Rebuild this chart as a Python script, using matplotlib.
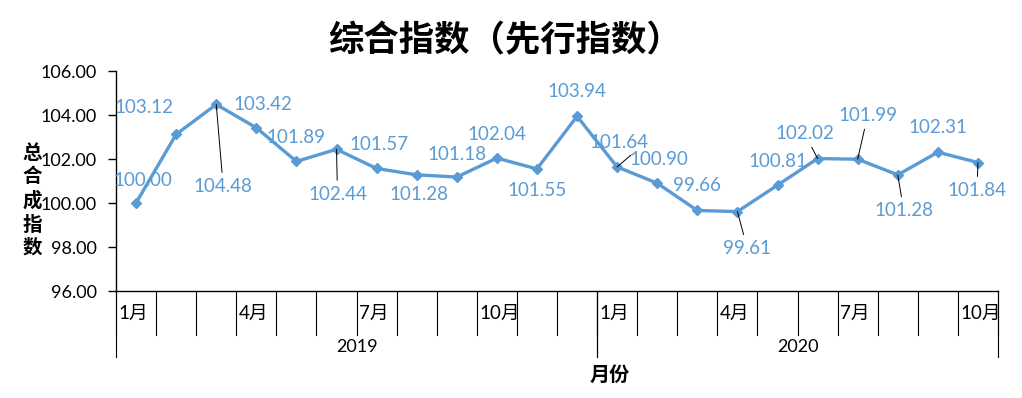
import matplotlib
matplotlib.use("Agg")
import matplotlib.pyplot as plt

plt.rcParams['font.family'] = ['Lato', 'Noto Sans CJK SC', 'DejaVu Sans']

# data
years = ["2019", "2020"]
months_per_year = [12, 10]
month_labels = ["1月", "", "", "4月", "", "", "7月", "", "", "10月", "", "",
                "1月", "", "", "4月", "", "", "7月", "", "", "10月"]
values = [100.00, 103.12, 104.48, 103.42, 101.89, 102.44, 101.57, 101.28,
          101.18, 102.04, 101.55, 103.94,
          101.64, 100.90, 99.66, 99.61, 100.81, 102.02, 101.99, 101.28,
          102.31, 101.84]

# label offsets in pixels and whether a leader line is drawn
offsets = [(7, 23), (-32, 27), (7, -82), (7, 23), (0, 24), (1, -45), (2, 24),
           (2, -20), (0, 23), (0, 24), (0, -22), (0, 25),
           (2, 24), (2, 24), (0, 25), (10, -37), (0, 24), (-13, 25),
           (10, 44), (6, -36), (0, 25), (-1, -28)]
leaders = [False, False, True, False, False, True, False, False, False, False,
           False, False, False, False, False, True, False, True, True, True,
           False, True]

blue = "#5B9BD5"

fig = plt.figure(figsize=(10.22, 3.98), dpi=100)
ax = fig.add_axes([116/1022, 107/398, 882/1022, 220/398])

x = list(range(len(values)))
ax.plot(x, values, color=blue, lw=2.4, marker='D', markersize=5.5)

for xi, v, (dx, dy), ld in zip(x, values, offsets, leaders):
    kw = {}
    if ld:
        kw['arrowprops'] = dict(arrowstyle='-', color='black', lw=0.7,
                                shrinkA=2, shrinkB=0)
    ax.annotate(f"{v:.2f}", (xi, v), xytext=(dx, dy), textcoords='offset pixels',
                ha='center', va='center', color=blue, fontsize=13.5, **kw)

# small leader for the 2020 Jan point
ax.annotate("", (12, values[12]), xytext=(14, 12), textcoords='offset pixels',
            arrowprops=dict(arrowstyle='-', color='black', lw=0.7,
                            shrinkA=0, shrinkB=0))

ax.set_xlim(-0.5, len(values) - 0.5)
ax.set_ylim(96, 106)
ax.set_yticks([96, 98, 100, 102, 104, 106])
ax.set_yticklabels([f"{t:.2f}" for t in [96, 98, 100, 102, 104, 106]], fontsize=13)
ax.tick_params(axis='y', length=6, width=1, pad=8, direction='out')
ax.set_xticks([])
for s in ['top', 'right']:
    ax.spines[s].set_visible(False)
ax.spines['left'].set_linewidth(1)
ax.spines['bottom'].set_linewidth(1)

# category separators and labels
tr = ax.get_xaxis_transform()
for k in range(len(values) + 1):
    ax.plot([k - 0.5, k - 0.5], [0, -0.2], color='black', lw=0.8,
            transform=tr, clip_on=False)
for k, lab in enumerate(month_labels):
    if lab:
        ax.text(k - 0.44, -0.1, lab, transform=tr, ha='left', va='center',
                fontsize=13.5)

start = 0
for yr, n in zip(years, months_per_year):
    for b in (start, start + n):
        ax.plot([b - 0.5, b - 0.5], [0, -0.3], color='black', lw=0.8,
                transform=tr, clip_on=False)
    ax.text(start + n / 2 - 0.5, -0.255, yr, transform=tr, ha='center',
            va='center', fontsize=13)
    start += n

fig.text(610/1022, 1 - 375/398, "月份", ha='center', va='center',
         fontsize=14.5, fontweight='bold')
fig.text(32/1022, 1 - 200/398, "总\n合\n成\n指\n数", ha='center', va='center',
         fontsize=14, fontweight='bold', linespacing=1.3)
fig.text(505/1022, 1 - 40/398, "综合指数（先行指数）", ha='center', va='center',
         fontsize=25.5, fontweight='bold')

fig.savefig("out.png", dpi=100)
